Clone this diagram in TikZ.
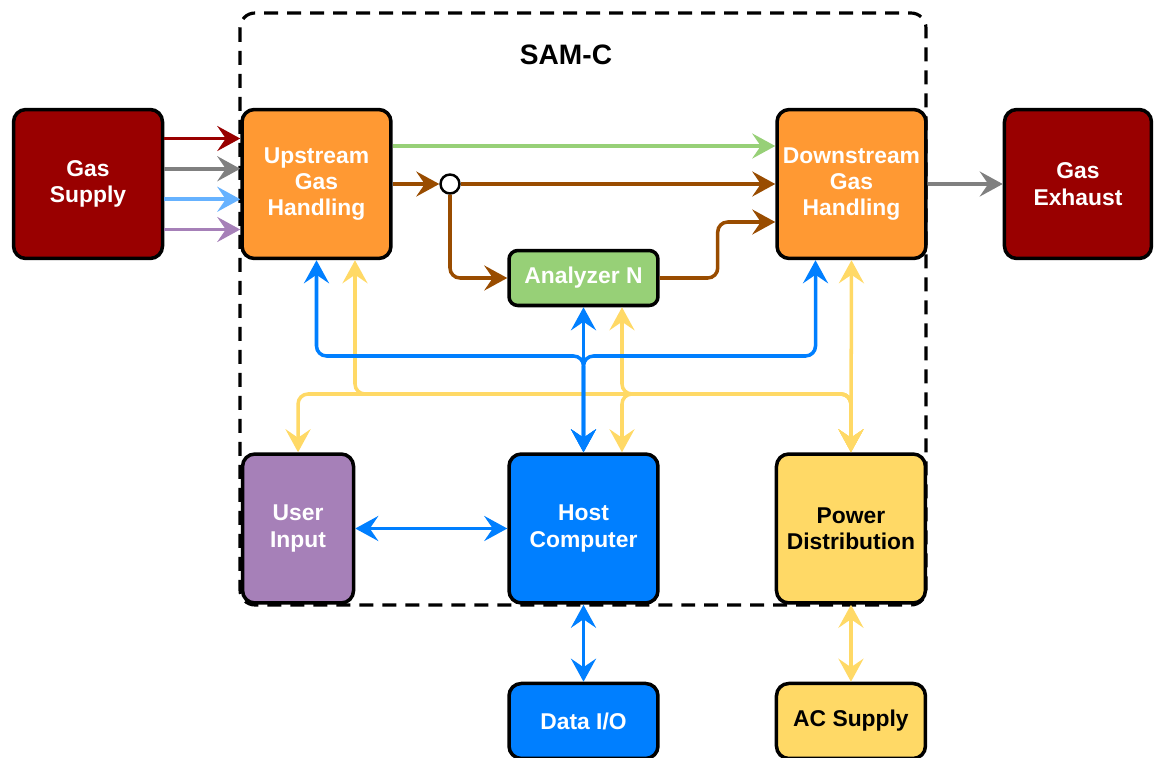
\documentclass[tikz,border=0pt]{standalone}
\usepackage{fontspec}
\setmainfont{Liberation Sans}
\usepackage{tikz}
\usetikzlibrary{arrows.meta,positioning}
\definecolor{gasred}{HTML}{990000}
\definecolor{gasorange}{HTML}{FF9933}
\definecolor{anagreen}{HTML}{97D077}
\definecolor{usrpurple}{HTML}{A680B8}
\definecolor{hostblue}{HTML}{007FFF}
\definecolor{pwryellow}{HTML}{FFD966}
\definecolor{flowgray}{HTML}{808080}
\definecolor{flowblue}{HTML}{66B2FF}
\definecolor{flowbrown}{HTML}{994C00}

\begin{document}
\begin{tikzpicture}[x=0.02cm, y=-0.02cm,
  >={Stealth[length=4.6mm, width=5mm, inset=1.7mm]},
  blk/.style={draw, line width=2pt, rounded corners=7pt, minimum width=2.98cm,
              minimum height=2.98cm, align=center, text=white,
              font=\bfseries\fontsize{13}{15}\selectfont},
  ar/.style={line width=2pt, rounded corners=0.2cm},
  frame/.style={line width=1.8pt, dash pattern=on 0.28cm off 0.18cm, rounded corners=0.3cm}]
\useasboundingbox (0,0) rectangle (1154,758);
% SAM-C enclosure
\draw[frame] (240,13) rectangle (926,605);
\node[font=\bfseries\fontsize{16}{18}\selectfont] (title) at (566,55) {SAM-C};
% gas path
\node[blk, fill=gasorange] (ups) at (316.5,184) {Upstream\\Gas\\Handling};
\node[blk, fill=gasred, left=1.52cm of ups] (gsup) {Gas\\Supply};
\node[blk, fill=gasorange] (dns) at (851.5,184) {Downstream\\Gas\\Handling};
\node[blk, fill=gasred, minimum width=2.94cm, right=1.5cm of dns] (gexh) {Gas\\Exhaust};
\node[blk, fill=anagreen, minimum height=1.1cm, rounded corners=5pt] (ana) at (583.5,278) {Analyzer N};
\node[circle, draw, fill=white, line width=1.4pt, minimum size=0.38cm, inner sep=0pt] (tee) at (450,184) {};
% control and power
\node[blk, fill=hostblue] (host) at (583.5,528.5) {Host\\Computer};
\node[blk, fill=usrpurple, minimum width=2.22cm, left=3.04cm of host] (usr) {User\\Input};
\node[blk, fill=pwryellow, text=black, right=2.3cm of host] (pwr) {Power\\Distribution};
\node[blk, fill=hostblue, minimum height=1.5cm, below=1.54cm of host] (dio) {Data I/O};
\node[blk, fill=pwryellow, text=black, minimum height=1.5cm, below=1.54cm of pwr] (acs) {AC Supply};
\coordinate (bbus) at (0,356);
\coordinate (ybus) at (0,394);

\foreach \c/\dy in {gasred/0.91, flowgray/0.305, flowblue/-0.305, usrpurple/-0.91}
  \draw[ar, ->, \c] ([yshift=\dy cm]gsup.east) -- ([yshift=\dy cm]ups.west);
\draw[ar, ->, anagreen] ([yshift=0.76cm]ups.east) -- ([yshift=0.76cm]dns.west);
\draw[ar, ->, flowbrown] (ups.east) -- (tee.west);
\draw[ar, ->, flowbrown] (tee.east) -- (dns.west);
\draw[ar, ->, flowbrown] (tee.south) |- (ana.west);
\draw[ar, ->, flowbrown] (ana.east) -- ++(1.16cm,0) |- ([yshift=-0.76cm]dns.west);
\draw[ar, ->, flowgray] (dns.east) -- (gexh.west);

% power bus
\draw[ar, <->, pwryellow] ([xshift=0.77cm]ups.south) |- (pwr.north |- ybus) -- (pwr.north);
\draw[ar, <->, pwryellow] (usr.north) |- (pwr.north |- ybus) -- (pwr.north);
\draw[ar, <->, pwryellow] ([xshift=0.77cm]ana.south) |- (pwr.north |- ybus) -- (pwr.north);
\draw[ar, <->, pwryellow] ([xshift=0.77cm]host.north) |- (pwr.north |- ybus) -- (pwr.north);
\draw[ar, <->, pwryellow] (dns.south) -- (pwr.north);
\draw[ar, <->, pwryellow] (pwr.south) -- (acs.north);

% data bus
\draw[ar, <->, hostblue] (ups.south) |- (host.north |- bbus) -- (host.north);
\draw[ar, <->, hostblue] ([xshift=-0.72cm]dns.south) |- (host.north |- bbus) -- (host.north);
\draw[ar, <->, hostblue] (ana.south) -- (host.north);
\draw[ar, <->, hostblue] (usr.east) -- (host.west);
\draw[ar, <->, hostblue] (host.south) -- (dio.north);
\end{tikzpicture}
\end{document}
